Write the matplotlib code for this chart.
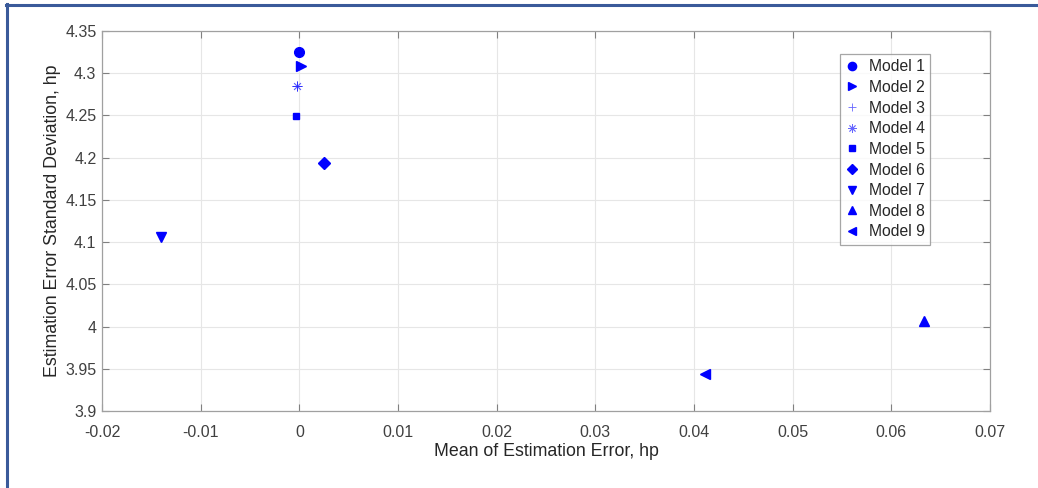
import numpy as np
from matplotlib import pyplot as plt
from matplotlib.lines import Line2D

plt.rcParams['font.family'] = ['Liberation Sans', 'DejaVu Sans']

models = ["Model 1", "Model 2", "Model 3", "Model 4", "Model 5",
          "Model 6", "Model 7", "Model 8", "Model 9"]
meanErr = [0.0, 0.0002, -0.0002, -0.0002, -0.0003, 0.0025, -0.014, 0.0633, 0.0411]
stdErr = [4.325, 4.308, 4.285, 4.285, 4.249, 4.194, 4.106, 4.007, 3.944]
markers = ['o', '>', '+', (8, 2, 0), 's', 'D', 'v', '^', '<']
sizes = [7, 7, 7, 7, 5, 6, 7, 7, 7]

xTicks = np.arange(-0.02, 0.0701, 0.01)
yTicks = np.arange(3.9, 4.3501, 0.05)
xLabels = ["-0.02", "-0.01", "0", "0.01", "0.02", "0.03", "0.04", "0.05", "0.06", "0.07"]
yLabels = ["3.9", "3.95", "4", "4.05", "4.1", "4.15", "4.2", "4.25", "4.3", "4.35"]

fig = plt.figure(figsize=(10.38, 4.88), dpi=100)
ax = fig.add_axes([102/1038, 77/488, 888/1038, 380/488])

for i, m in enumerate(models):
    thin = markers[i] in ['+', (8, 2, 0)]
    ax.plot(meanErr[i], stdErr[i], linestyle='none', marker=markers[i],
            markersize=sizes[i], color='#0000ff', label=m,
            markeredgewidth=0.6 if thin else 1.0,
            alpha=0.6 if thin else 1.0)

ax.set_xlim(-0.02, 0.07)
ax.set_ylim(3.9, 4.35)
ax.set_xticks(xTicks)
ax.set_xticklabels(xLabels)
ax.set_yticks(yTicks)
ax.set_yticklabels(yLabels)
ax.grid(True, color='#e6e6e6', linewidth=0.8)
ax.set_axisbelow(True)
ax.tick_params(direction='in', length=5, color='#808080', labelcolor='#404040',
               labelsize=11.5, top=True, right=True, labeltop=False, labelright=False)
ax.tick_params(axis='x', pad=10)
ax.tick_params(axis='y', pad=4)
for s in ax.spines.values():
    s.set_color('#a0a0a0')
    s.set_linewidth(0.9)

ax.set_xlabel("Mean of Estimation Error, hp", fontsize=12.8, color='#262626', labelpad=2)
ax.set_ylabel("Estimation Error Standard Deviation, hp", fontsize=12.8, color='#262626', labelpad=3)

leg = ax.legend(loc='upper left', bbox_to_anchor=(0.831, 0.94), fontsize=11.3,
                frameon=True, fancybox=False, edgecolor='#909090',
                labelspacing=0.36, handlelength=0.8, handletextpad=0.7,
                borderpad=0.35, borderaxespad=0, markerscale=0.85)
leg.get_frame().set_linewidth(0.9)
for t in leg.get_texts():
    t.set_color('#262626')

# blue frame around the picture
fig.add_artist(Line2D([6.5/1038, 6.5/1038], [0, 1 - 4/488], color='#3a5a9a', linewidth=2.2))
fig.add_artist(Line2D([6/1038, 1], [1 - 5/488, 1 - 5/488], color='#3a5a9a', linewidth=2.2))

fig.savefig("out.png", dpi=100)
